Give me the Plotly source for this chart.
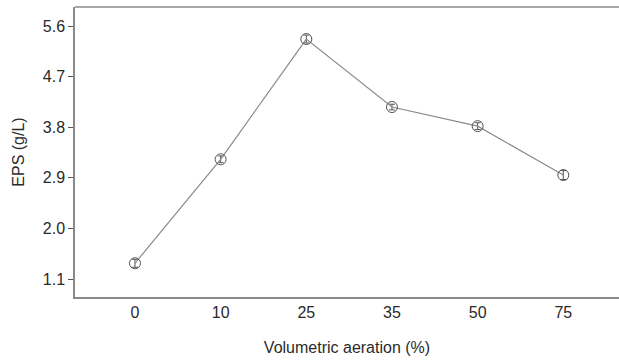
import plotly.graph_objects as go

categories = ["0", "10", "25", "35", "50", "75"]
eps_values = [1.38, 3.23, 5.37, 4.16, 3.82, 2.95]
eps_errors = [0.07, 0.06, 0.07, 0.05, 0.06, 0.08]
y_ticks = [1.1, 2.0, 2.9, 3.8, 4.7, 5.6]

fig = go.Figure()
fig.add_trace(go.Scatter(
    x=categories, y=eps_values,
    mode="lines+markers",
    line=dict(color="#8a8a8a", width=1.2),
    marker=dict(symbol="circle-open", size=11, color="#555555", line=dict(width=1, color="#555555")),
    error_y=dict(type="data", array=eps_errors, color="#555555", thickness=1, width=3),
    showlegend=False,
))

fig.update_layout(
    width=619, height=360,
    margin=dict(l=75, r=0, t=7, b=63),
    paper_bgcolor="white", plot_bgcolor="white",
    font=dict(family="Liberation Sans, Arial, sans-serif", size=16, color="#2a2a2a"),
)
fig.update_xaxes(
    type="category", range=[-0.7, 5.65],
    showline=True, linecolor="#8a8a8a", linewidth=1.5, mirror=False,
    showgrid=False, ticks="",
    title=dict(text="Volumetric aeration (%)", standoff=22, font=dict(size=16)),
)
fig.update_yaxes(
    range=[0.78, 5.94], tickvals=y_ticks, ticktext=[f"{v:.1f}" for v in y_ticks],
    showline=True, linecolor="#8a8a8a", linewidth=1.5,
    showgrid=False, zeroline=False, ticks="outside", ticklen=5, tickcolor="#555555",
    title=dict(text="EPS (g/L)", standoff=14, font=dict(size=16)),
)
# top border
fig.add_shape(type="line", xref="paper", yref="paper", x0=0, x1=1, y0=1, y1=1,
              line=dict(color="#8a8a8a", width=1.5))

fig.write_html("out.html")
